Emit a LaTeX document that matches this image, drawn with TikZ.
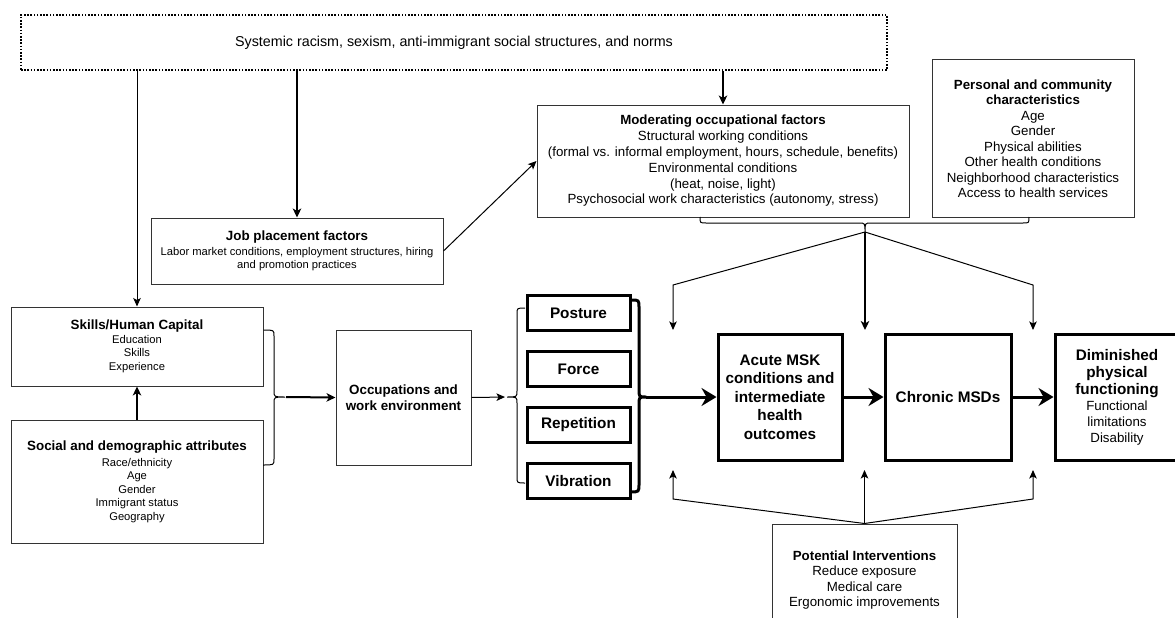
\documentclass[tikz,border=0pt]{standalone}
\usepackage{fontspec}
\setmainfont{Liberation Sans}
\usetikzlibrary{arrows.meta}
\begin{document}
\begin{tikzpicture}[x=1pt,y=-1pt,
 box/.style={draw=black!80, line width=1pt, inner sep=0pt, align=center, text=black},
 heavybox/.style={draw=black, line width=3pt, inner sep=0pt, align=center, font=\fontsize{15.3pt}{18.5pt}\selectfont\bfseries},
 thinarr/.style={draw=black, line width=1pt, -{Stealth[length=8.5pt,width=7.5pt,inset=2pt]}},
 medarr/.style={draw=black, line width=2pt, -{Stealth[length=9pt,width=8.5pt,inset=2.5pt]}},
 heavyarr/.style={draw=black, line width=3pt, -{Stealth[length=15pt,width=18pt,inset=5pt]}},
 bracethin/.style={draw=black, line width=1pt},
 bracethick/.style={draw=black, line width=3pt, line join=round}
]
\clip (0,0) rectangle (1175,618);
\fill[white] (0,0) rectangle (1175,618);

% nodes
\node[box, draw=black, line width=1.6pt, dash pattern=on 1.6pt off 1.6pt,
      minimum width=866pt, minimum height=55pt, font=\fontsize{14.3pt}{17pt}\selectfont] (sys) at (454,42.5)
  {Systemic racism, sexism, anti-immigrant social structures, and norms};

\node[box, minimum width=292pt, minimum height=66pt, font=\fontsize{11.2pt}{13.3pt}\selectfont] (job) at (297,251)
  {{\fontsize{13.4pt}{16pt}\selectfont\bfseries Job placement factors}\\[1.5pt]
   Labor market conditions, employment structures, hiring\\and promotion practices};

\node[box, minimum width=372pt, minimum height=112pt, font=\fontsize{13.3pt}{15.8pt}\selectfont] (mod) at (723,161)
  {\textbf{Moderating occupational factors}\\Structural working conditions\\(formal vs. informal employment, hours, schedule, benefits)\\Environmental conditions\\(heat, noise, light)\\Psychosocial work characteristics (autonomy, stress)};

\node[box, minimum width=202pt, minimum height=157pt, font=\fontsize{13.3pt}{15.5pt}\selectfont] (pers) at (1033,138.5)
  {\textbf{Personal and community}\\\textbf{characteristics}\\Age\\Gender\\Physical abilities\\Other health conditions\\Neighborhood characteristics\\Access to health services};

\node[box, minimum width=252pt, minimum height=79pt, font=\fontsize{11.2pt}{13.5pt}\selectfont] (skills) at (137,346.5)
  {{\fontsize{13.4pt}{16pt}\selectfont\bfseries Skills/Human Capital}\\Education\\Skills\\Experience};

\node[box, minimum width=252pt, minimum height=123pt, font=\fontsize{11.2pt}{13.5pt}\selectfont] (social) at (137,481.5)
  {{\fontsize{13.4pt}{16pt}\selectfont\bfseries Social and demographic attributes}\\[2.5pt]
   Race/ethnicity\\Age\\Gender\\Immigrant status\\Geography};

\node[box, minimum width=135pt, minimum height=135pt, font=\fontsize{13.4pt}{16pt}\selectfont\bfseries] (occ) at (403.5,397.5)
  {Occupations and\\work environment};

\node[heavybox, minimum width=103pt, minimum height=35pt] (posture) at (578.5,313) {Posture};
\node[heavybox, minimum width=103pt, minimum height=35pt] (force) at (578.5,369) {Force};
\node[heavybox, minimum width=103pt, minimum height=35pt] (rep) at (578.5,425) {Repetition};
\node[heavybox, minimum width=103pt, minimum height=35pt] (vib) at (578.5,481) {Vibration};

\node[heavybox, minimum width=124pt, minimum height=126pt] (acute) at (780,397)
  {Acute MSK\\conditions and\\intermediate\\health\\outcomes};
\node[heavybox, minimum width=126pt, minimum height=126pt] (chronic) at (948,397) {Chronic MSDs};
\node[heavybox, minimum width=124pt, minimum height=126pt, font=\fontsize{15.3pt}{17.25pt}\selectfont\bfseries] (dimin) at (1117,397)
  {Diminished\\physical\\functioning\\[-1pt]
   {\mdseries\fontsize{13.3pt}{15.5pt}\selectfont Functional}\\[-1.5pt]
   {\mdseries\fontsize{13.3pt}{15.5pt}\selectfont limitations}\\[-1.5pt]
   {\mdseries\fontsize{13.3pt}{15.5pt}\selectfont Disability}};

\node[box, minimum width=185pt, minimum height=112pt, font=\fontsize{13.3pt}{15.5pt}\selectfont] (interv) at (864.5,580)
  {\textbf{Potential Interventions}\\Reduce exposure\\Medical care\\Ergonomic improvements};

% braces
\coordinate (sbtip) at (286,397);
\draw[bracethin] (skills.east |- 0,330) .. controls (274,330) .. (274,336) -- (274,391)
   .. controls (274,397) .. (285,397) .. controls (274,397) .. (274,403) -- (274,459)
   .. controls (274,465) .. (263,465);

\coordinate (lbtip) at (507,397);
\draw[bracethin] (525,308) .. controls (517,308) .. (517,314) -- (517,391)
   .. controls (517,397) .. (507,397) .. controls (517,397) .. (517,403) -- (517,477)
   .. controls (517,483) .. (525,483);

\coordinate (rbtip) at (646,397);
\draw[bracethick] (posture.east |- 0,300) .. controls (639,300) .. (639,308) -- (639,389)
   .. controls (639,397) .. (646,397) .. controls (639,397) .. (639,405) -- (639,484)
   .. controls (639,492) .. (630,492);

\coordinate (tbtip) at (865,232);
\draw[bracethin] (700,217) .. controls (700,223) .. (706,223) -- (859,223)
   .. controls (865,223) .. (865,232) .. controls (865,223) .. (871,223) -- (1023,223)
   .. controls (1029,223) .. (1029,217);

% free ends
\coordinate (dl) at (673,330);
\coordinate (dc) at (865,330);
\coordinate (dr) at (1033,330);
\coordinate (ul) at (673,470);
\coordinate (uc) at (864.5,470);
\coordinate (ur) at (1033,470);

% connectors
\draw[thinarr] (sys.south -| skills.north) -- (skills.north);
\draw[medarr] (sys.south -| job.north) -- (job.north);
\draw[medarr] (sys.south -| mod.north) -- (mod.north);
\draw[thinarr] (job.east) -- (mod.west);
\draw[medarr] (social.north) -- (skills.south);
\draw[medarr] (sbtip) -- (occ.west);
\draw[thinarr, shorten >=2pt] (occ.east) -- (lbtip);
\draw[heavyarr] (rbtip) -- (acute.west);
\draw[heavyarr] (acute.east) -- (chronic.west);
\draw[heavyarr] (chronic.east) -- (dimin.west);

\draw[thinarr, line join=round] (tbtip) -- (673,285) -- (dl);
\draw[medarr] (tbtip) -- (dc);
\draw[thinarr, line join=round] (tbtip) -- (1033,285) -- (dr);

\draw[thinarr, line join=round] (interv.north) -- (673,499) -- (ul);
\draw[thinarr] (interv.north) -- (uc);
\draw[thinarr, line join=round] (interv.north) -- (1033,499) -- (ur);
\end{tikzpicture}
\end{document}
